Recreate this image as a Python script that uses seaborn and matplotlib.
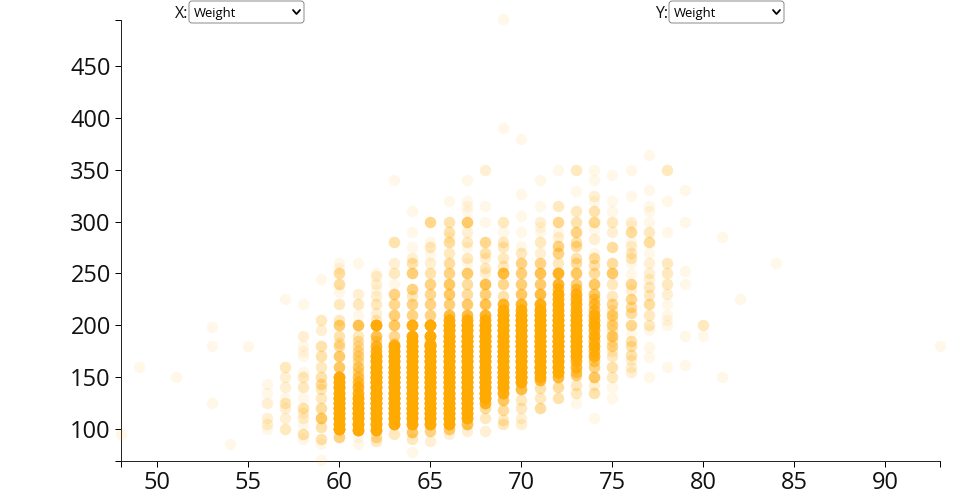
import numpy as np
import pandas as pd
import matplotlib
matplotlib.use('Agg')
import matplotlib.pyplot as plt
import seaborn as sns
from matplotlib.lines import Line2D
from matplotlib.patches import FancyBboxPatch
from matplotlib.transforms import IdentityTransform

# lone points, one person each
lone_height = [48, 49, 51, 53, 53, 53, 54, 55, 69, 69, 70, 79, 79, 79, 79, 79, 79, 81, 81, 82, 84, 93]
lone_weight = [95, 160, 150, 198, 180, 125, 85, 180, 495, 390, 380, 330, 300, 252, 240, 190, 162, 285, 150, 225, 260, 180]

# height columns: weights and how many people sit on each one
w56 = [143, 135, 125, 110, 105, 100]
c56 = [1, 1, 2, 2, 2, 1]
w57 = [225, 160, 150, 140, 130, 125, 120, 110, 100]
c57 = [1, 3, 2, 2, 1, 3, 2, 2, 3]
w58 = [220, 190, 180, 175, 170, 155, 150, 140, 130, 120, 115, 110, 105, 95, 90]
c58 = [1, 2, 1, 1, 1, 1, 3, 3, 1, 4, 2, 2, 1, 4, 1]
w59 = [245, 205, 195, 180, 170, 160, 150, 143, 138, 130, 120, 110, 102, 90, 85, 70]
c59 = [1, 3, 2, 4, 4, 3, 4, 5, 3, 3, 5, 10, 4, 4, 1, 1]
w60 = [260, 255, 250, 240, 232, 220, 205, 200, 190, 183, 180, 170, 160, 150, 145, 140, 135, 130, 125, 120, 115, 110, 105, 100, 92]
c60 = [1, 1, 5, 5, 1, 3, 3, 8, 4, 3, 5, 9, 10, 30, 30, 40, 30, 45, 40, 45, 35, 45, 35, 40, 7]
w61 = [260, 230, 220, 210, 200, 190, 185, 180, 175, 170, 165, 160, 155, 150, 145, 140, 135, 130, 125, 120, 115, 110, 105, 99, 92, 85]
c61 = [1, 2, 3, 1, 12, 3, 4, 4, 5, 6, 5, 8, 6, 10, 12, 18, 20, 30, 35, 45, 40, 45, 40, 35, 1, 1]
w62 = [250, 247, 240, 234, 228, 220, 212, 205, 200, 190, 185, 180, 175, 170, 165, 160, 155, 150, 145, 140, 135, 130, 125, 120, 115, 110, 105, 99, 92, 88]
c62 = [1, 2, 2, 1, 2, 3, 2, 3, 30, 12, 6, 16, 18, 40, 35, 45, 40, 50, 45, 50, 45, 50, 45, 50, 40, 45, 35, 30, 5, 3]
w63 = [340, 280, 260, 250, 240, 230, 220, 210, 200, 190, 182, 180, 175, 170, 165, 160, 155, 150, 145, 140, 135, 130, 125, 120, 115, 110, 105, 95]
c63 = [1, 4, 2, 3, 1, 7, 6, 8, 10, 6, 10, 30, 30, 45, 40, 50, 45, 50, 45, 50, 45, 50, 45, 50, 40, 40, 30, 3]
w64 = [310, 290, 275, 265, 260, 250, 235, 228, 220, 210, 200, 190, 185, 180, 175, 170, 165, 160, 155, 150, 145, 140, 135, 130, 125, 120, 115, 110, 105, 97, 90, 78]
c64 = [1, 1, 1, 2, 4, 8, 7, 3, 7, 7, 25, 30, 35, 45, 45, 50, 45, 50, 45, 50, 45, 50, 45, 50, 45, 50, 40, 40, 30, 10, 3, 1]
w65 = [300, 280, 275, 268, 260, 250, 240, 230, 220, 210, 200, 190, 182, 180, 175, 170, 165, 160, 155, 150, 145, 140, 135, 130, 125, 120, 115, 110, 105, 98, 88]
c65 = [6, 1, 3, 1, 2, 4, 7, 6, 7, 7, 35, 35, 30, 45, 45, 50, 45, 50, 45, 50, 45, 50, 45, 50, 45, 50, 40, 40, 30, 7, 2]
w66 = [320, 300, 290, 285, 280, 270, 260, 250, 240, 230, 220, 210, 205, 200, 195, 190, 185, 180, 175, 170, 165, 160, 155, 150, 145, 140, 135, 130, 125, 120, 115, 110, 105, 100, 95]
c66 = [1, 4, 4, 1, 5, 3, 5, 7, 10, 10, 8, 14, 25, 45, 40, 50, 45, 50, 45, 50, 45, 50, 45, 50, 45, 50, 45, 50, 45, 50, 40, 40, 30, 8, 2]
w67 = [340, 320, 315, 310, 300, 290, 280, 275, 265, 260, 250, 240, 230, 220, 210, 205, 200, 195, 190, 185, 180, 175, 170, 165, 160, 155, 150, 145, 140, 135, 130, 125, 120, 115, 110, 105, 98]
c67 = [1, 1, 1, 1, 9, 2, 3, 1, 3, 1, 9, 5, 5, 9, 14, 25, 45, 40, 50, 45, 50, 45, 50, 45, 50, 45, 50, 45, 50, 45, 50, 40, 45, 35, 30, 12, 2]
w68 = [350, 315, 300, 280, 270, 265, 255, 250, 240, 230, 220, 210, 205, 200, 195, 190, 185, 180, 175, 170, 165, 160, 155, 150, 145, 140, 135, 130, 125, 120, 110, 98]
c68 = [2, 1, 1, 6, 4, 2, 3, 2, 12, 8, 12, 18, 25, 45, 40, 50, 45, 50, 45, 50, 45, 50, 45, 50, 45, 50, 40, 40, 18, 5, 3, 2]
w69 = [300, 290, 280, 275, 265, 257, 250, 240, 228, 220, 215, 210, 205, 200, 195, 190, 185, 180, 175, 170, 165, 160, 155, 150, 145, 140, 135, 128, 118, 109, 105]
c69 = [3, 1, 3, 3, 3, 3, 15, 6, 4, 18, 25, 40, 40, 50, 45, 50, 45, 50, 45, 50, 45, 50, 45, 50, 40, 40, 25, 10, 5, 3, 3]
w70 = [327, 305, 290, 276, 270, 260, 250, 240, 230, 220, 215, 210, 205, 200, 195, 190, 185, 180, 175, 170, 165, 160, 155, 150, 145, 138, 128, 120, 110, 105]
c70 = [1, 1, 1, 1, 3, 7, 8, 8, 10, 18, 25, 40, 40, 50, 45, 50, 45, 50, 45, 50, 45, 50, 45, 50, 30, 14, 3, 3, 2, 2]
w71 = [340, 315, 300, 295, 290, 280, 270, 260, 250, 240, 230, 220, 215, 210, 205, 200, 195, 190, 185, 180, 175, 170, 165, 160, 155, 150, 147, 139, 130, 120]
c71 = [1, 1, 2, 1, 1, 3, 2, 7, 12, 9, 14, 25, 30, 40, 40, 50, 45, 50, 45, 50, 45, 50, 45, 50, 40, 25, 14, 4, 3, 5]
w72 = [350, 315, 300, 290, 285, 276, 270, 260, 250, 240, 235, 230, 225, 220, 215, 210, 205, 200, 195, 190, 185, 180, 175, 170, 165, 160, 155, 150, 140, 130]
c72 = [1, 3, 6, 1, 2, 7, 7, 3, 20, 18, 12, 28, 25, 35, 30, 40, 40, 50, 45, 50, 45, 50, 45, 50, 40, 40, 30, 16, 5, 4]
w73 = [350, 329, 310, 300, 290, 280, 276, 265, 260, 250, 240, 235, 230, 225, 220, 215, 210, 205, 200, 195, 190, 185, 180, 175, 170, 165, 160, 155, 152, 142, 135, 125]
c73 = [3, 1, 3, 4, 7, 4, 5, 4, 5, 10, 8, 10, 18, 18, 25, 25, 35, 35, 40, 35, 40, 35, 40, 30, 30, 18, 16, 8, 8, 3, 3, 1]
w74 = [350, 340, 325, 320, 310, 300, 293, 283, 270, 265, 258, 250, 240, 230, 225, 220, 215, 210, 205, 200, 195, 190, 185, 180, 175, 170, 165, 160, 150, 142, 135, 110]
c74 = [1, 1, 2, 1, 4, 6, 1, 2, 1, 5, 4, 5, 10, 10, 8, 12, 12, 20, 18, 25, 18, 22, 14, 22, 14, 18, 8, 7, 10, 2, 4, 1]
w75 = [345, 320, 310, 300, 290, 275, 260, 250, 240, 228, 220, 215, 210, 205, 200, 195, 190, 185, 180, 175, 170, 160, 150, 140, 130]
c75 = [1, 1, 1, 3, 2, 5, 5, 9, 3, 3, 6, 3, 8, 3, 7, 3, 9, 3, 6, 2, 3, 4, 3, 1, 1]
w76 = [350, 325, 300, 297, 290, 280, 276, 270, 265, 260, 249, 240, 234, 225, 218, 212, 200, 192, 185, 180, 171, 166, 160, 155]
c76 = [1, 1, 2, 1, 5, 1, 2, 3, 3, 1, 1, 6, 2, 6, 5, 5, 6, 1, 4, 4, 4, 2, 2, 2]
w77 = [364, 330, 315, 310, 300, 290, 280, 270, 260, 250, 245, 237, 229, 220, 210, 200, 195, 179, 169, 150]
c77 = [1, 1, 1, 1, 1, 3, 5, 1, 2, 2, 2, 3, 3, 5, 3, 3, 1, 1, 1, 1]
w78 = [350, 320, 290, 260, 250, 240, 230, 220, 210, 205, 200, 160]
c78 = [3, 1, 1, 3, 3, 3, 2, 1, 1, 1, 1, 1]
w80 = [200, 190]
c80 = [3, 1]

y_ticks = [100, 150, 200, 250, 300, 350, 400, 450]
x_ticks = [50, 55, 60, 65, 70, 75, 80, 85, 90]

columns = {56: (w56, c56), 57: (w57, c57), 58: (w58, c58), 59: (w59, c59),
           60: (w60, c60), 61: (w61, c61), 62: (w62, c62), 63: (w63, c63),
           64: (w64, c64), 65: (w65, c65), 66: (w66, c66), 67: (w67, c67),
           68: (w68, c68), 69: (w69, c69), 70: (w70, c70), 71: (w71, c71),
           72: (w72, c72), 73: (w73, c73), 74: (w74, c74), 75: (w75, c75),
           76: (w76, c76), 77: (w77, c77), 78: (w78, c78), 80: (w80, c80)}

frames = [pd.DataFrame({'height': lone_height, 'weight': lone_weight})]
for h, (w, c) in columns.items():
    frames.append(pd.DataFrame({'height': h, 'weight': np.repeat(w, c)}))
df = pd.concat(frames, ignore_index=True)

sns.set_style('ticks')
plt.rcParams['font.family'] = ['Open Sans', 'DejaVu Sans']

fig = plt.figure(figsize=(9.6, 5), dpi=100)
ax = fig.add_axes([121 / 960, 1 - 461 / 500, (940 - 121) / 960, (461 - 20) / 500])

sns.scatterplot(data=df, x='height', y='weight', color='#ffaa00', alpha=0.09,
                s=68, linewidth=0, clip_on=False, ax=ax, zorder=3)

ax.set_xlim(48, 93)
ax.set_ylim(69, 494.4)
ax.set_xticks(x_ticks)
ax.set_yticks(y_ticks)
# the end caps of the axis lines
ax.set_xticks([48, 93], minor=True)
ax.set_yticks([69, 494.4], minor=True)
ax.tick_params(which='both', length=4.3, width=0.72, color='black')
ax.tick_params(which='major', labelsize=17, labelcolor='#111111', pad=3)
ax.set_xlabel('')
ax.set_ylabel('')
sns.despine(ax=ax)
ax.spines['left'].set_linewidth(0.72)
ax.spines['bottom'].set_linewidth(0.72)


# the two dropdowns at the top, in pixels
def dropdown(label, label_x, box_x):
    top = 500 - 1
    fig.add_artist(FancyBboxPatch((box_x + 2, top - 20), 111, 18,
                                  boxstyle='round,pad=2,rounding_size=3',
                                  transform=IdentityTransform(),
                                  facecolor='white', edgecolor='#767676', linewidth=0.6))
    fig.text(label_x / 960, 1 - 13.5 / 500, label, fontsize=11.5, va='center', color='#111111')
    fig.text((box_x + 5) / 960, 1 - 13.5 / 500, 'Weight', fontsize=9.4, va='center', color='black')
    fig.add_artist(Line2D([(box_x + 104) / 960, (box_x + 107.5) / 960, (box_x + 111) / 960],
                          [1 - 10 / 500, 1 - 14 / 500, 1 - 10 / 500],
                          color='black', linewidth=1.3))


dropdown('X:', 174.5, 189)
dropdown('Y:', 655, 669)

plt.savefig('out.png', dpi=100)
